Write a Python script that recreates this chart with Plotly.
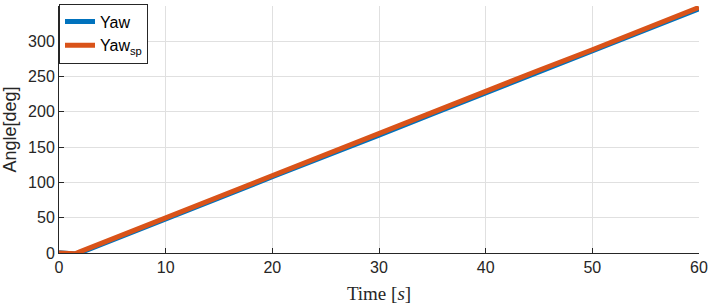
import plotly.graph_objects as go

time_s = [0, 0.5, 1.0, 1.5, 2.0, 5, 10, 15, 20, 25, 30, 35, 40, 45, 50, 55, 60]
yaw_sp = [0, 0, -0.5, -1, 2, 20, 50, 80, 110, 139, 169, 199, 229, 259, 288, 318, 348]
yaw = [0.5, 0.2, -0.8, -1.5, 0.5, 18, 48, 78, 108, 137, 167, 197, 227, 257, 286, 316, 346]
x_ticks = [0, 10, 20, 30, 40, 50, 60]
y_ticks = [0, 50, 100, 150, 200, 250, 300]

fig = go.Figure()
fig.add_trace(go.Scatter(x=time_s, y=yaw, mode="lines", name="Yaw",
                         line=dict(color="#0072BD", width=5)))
fig.add_trace(go.Scatter(x=time_s, y=yaw_sp, mode="lines", name="Yaw<sub>sp</sub>",
                         line=dict(color="#D95319", width=5)))

axis_common = dict(showline=True, linecolor="#262626", linewidth=1,
                   ticks="inside", ticklen=5, tickcolor="#262626",
                   showgrid=True, gridcolor="#E0E0E0", gridwidth=1,
                   zeroline=False, automargin=False,
                   tickfont=dict(family="Liberation Sans, Arial", size=16, color="#262626"))

fig.update_layout(
    width=712, height=304,
    margin=dict(l=59, r=13, t=4, b=51),
    plot_bgcolor="white", paper_bgcolor="white",
    showlegend=True,
    legend=dict(x=0, y=1.01, xanchor="left", yanchor="top",
                bgcolor="white", bordercolor="#262626", borderwidth=1,
                font=dict(family="Liberation Sans, Arial", size=16, color="black"),
                entrywidth=80, tracegroupgap=2),
    xaxis=dict(range=[0, 60], tickvals=x_ticks,
               title=dict(text="Time [<i>s</i>]",
                          font=dict(family="Liberation Serif, DejaVu Serif", size=19, color="#262626")),
               **axis_common),
    yaxis=dict(range=[0, 350], tickvals=y_ticks,
               title=dict(text="Angle[deg]",
                          font=dict(family="Liberation Sans, Arial", size=18, color="#262626")),
               **axis_common),
)

fig.write_html("out.html", config={"displayModeBar": False},
               post_script="document.body.style.margin='0';document.body.style.overflow='hidden';")
